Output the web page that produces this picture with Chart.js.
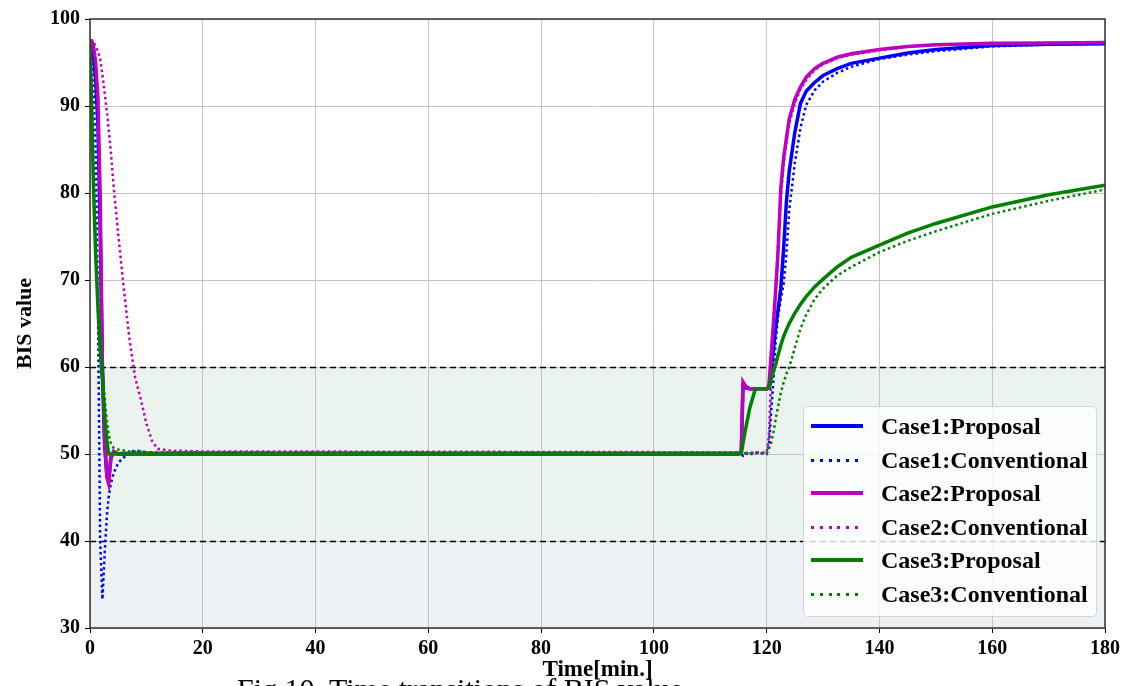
<!DOCTYPE html>
<html>
<head>
<meta charset="utf-8">
<script src="https://cdn.jsdelivr.net/npm/chart.js@4.4.0/dist/chart.umd.min.js"></script>
<style>
  html, body { margin: 0; padding: 0; background: #fff; overflow: hidden; }
  #wrap { position: relative; width: 1124px; height: 686px; overflow: hidden; }
  #legend {
    position: absolute; left: 803px; top: 406px; width: 294px; height: 211px;
    box-sizing: border-box; border: 1px solid #d4d4d4; border-radius: 5px;
    background: rgba(255, 255, 255, 0.8);
    font: bold 24px "Liberation Serif", "Times New Roman", serif; color: #000;
  }
  .row { position: absolute; left: 0; height: 30px; width: 100%; }
  .row .sample { position: absolute; left: 7px; top: 13px; width: 52px; }
  .row .label { position: absolute; left: 77px; top: 0; line-height: 30px; white-space: nowrap; }
  #caption {
    position: absolute; left: 237px; top: 674px; white-space: nowrap;
    font: 30px "Liberation Serif", "Times New Roman", serif; line-height: 30px; color: #000;
  }
</style>
</head>
<body>
<div id="wrap">
  <canvas id="chart" width="1124" height="686"></canvas>
  <div id="legend"></div>
  <div id="caption">Fig.10. Time transitions of BIS value</div>
</div>
<script>
// time axis [min.] shared by all series
const time = [0, 0.3, 0.6, 1.0, 1.4, 1.8, 2.2, 2.6, 3.0, 3.3,
              3.7, 4.2, 5, 6, 7, 8, 9, 10, 11, 12,
              14, 20, 115, 115.5, 115.8, 116.3, 117, 118, 120, 120.4,
              120.8, 121.2, 121.6, 122, 122.5, 123, 123.5, 124, 125, 126,
              127, 128.5, 130, 132.5, 135, 140, 145, 150, 160, 170,
              180];

const case1Proposal = [97.5, 97.3, 96, 93, 88, 76, 60, 51, 47.5, 46.8,
                       49.6, 50.2, 50, 50, 50, 50, 50, 50, 50, 50,
                       50, 50, 50, 50.1, 57.8, 57.6, 57.5, 57.5, 57.5, 57.6,
                       59.5, 62, 64.5, 66.5, 69, 73.5, 79, 82.5, 87, 90.3,
                       91.7, 92.7, 93.5, 94.3, 94.9, 95.5, 96.1, 96.5, 96.95, 97.1,
                       97.15];

const case1Conventional = [97.5, 95.5, 92, 85, 68, 40, 33.3, 38.5, 43, 45,
                           46.6, 47.8, 49, 49.6, 50.2, 50.4, 50.3, 50.2, 50.1, 50.1,
                           50.1, 50.1, 50.1, 50.0, 49.8, 50.1, 49.9, 50.2, 50.0, 51,
                           55, 58.5, 63, 65.7, 67.8, 69.5, 73, 78, 83.5, 87.5,
                           90.1, 91.8, 92.8, 93.8, 94.5, 95.4, 95.9, 96.3, 96.85, 97.05,
                           97.15];

const case2Proposal = [97.5, 97.5, 97, 95, 91, 80, 60, 51.5, 47.3, 46.6,
                       49.5, 50.3, 50, 50.1, 50.1, 50.1, 50.1, 50.1, 50.1, 50.1,
                       50.1, 50.1, 50.1, 50.2, 58.3, 57.8, 57.5, 57.5, 57.5, 57.8,
                       61.5, 65, 68.8, 73, 80.5, 84, 86.3, 88.5, 90.8, 92.2,
                       93.3, 94.3, 94.9, 95.6, 96.0, 96.5, 96.85, 97.05, 97.2, 97.25,
                       97.3];

const case2Conventional = [97.5, 97.5, 97.4, 96.9, 96.3, 95.4, 93.6, 91.5, 89.3, 87.4,
                           84.7, 80.7, 75.3, 69, 63.2, 58.8, 56.3, 53.5, 51.5, 50.6,
                           50.4, 50.3, 50.2, 50.2, 50.2, 50.1, 50.2, 50.1, 50.2, 52,
                           59, 65, 69.5, 74, 79.5, 83.2, 85.8, 88, 90.3, 91.9,
                           93.0, 94.1, 94.8, 95.5, 95.9, 96.4, 96.8, 97.0, 97.15, 97.25,
                           97.3];

const case3Proposal = [97.5, 90, 81, 73, 67, 62, 58.5, 54.5, 51.5, 50.0,
                       50, 50, 50, 50, 50, 50, 50, 50, 50, 50,
                       50, 50, 50, 50.1, 51.2, 53, 55.3, 57.5, 57.5, 57.6,
                       58.6, 59.5, 60.3, 61.3, 62.5, 63.5, 64.3, 65, 66.2, 67.2,
                       68.1, 69.2, 70.1, 71.5, 72.6, 74.0, 75.4, 76.5, 78.4, 79.8,
                       80.9];

const case3Conventional = [97.5, 93, 85, 76, 69, 64, 60, 56.5, 53.8, 52.3,
                           51.2, 50.7, 50.5, 50.4, 50.3, 50.3, 50.3, 50.2, 50.2, 50.2,
                           50.2, 50.2, 50.1, 50.1, 50.1, 50.1, 50.1, 50.1, 50.1, 50.6,
                           51.3, 52.5, 54, 55.4, 57, 58.2, 59.2, 60.0, 62.2, 64.4,
                           66, 67.8, 69, 70.5, 71.5, 73.2, 74.5, 75.6, 77.6, 79.1,
                           80.4];

const xTicks = [0, 20, 40, 60, 80, 100, 120, 140, 160, 180];
const yTicks = [30, 40, 50, 60, 70, 80, 90, 100];
const targetRange = [40, 60];

const BLUE = '#0000ff';
const MAGENTA = '#bf00bf';
const GREEN = '#008000';

const toPoints = (values) => values.map((v, i) => ({ x: time[i], y: v }));

const solid = (label, values, color) => ({
    label, data: toPoints(values), borderColor: color, backgroundColor: color,
    borderWidth: 3.5, pointRadius: 0, fill: false,
});
const dotted = (label, values, color) => ({
    label, data: toPoints(values), borderColor: color, backgroundColor: color,
    borderWidth: 2.5, borderDash: [2.5, 3], pointRadius: 0, fill: false,
});

const datasets = [
    solid('Case1:Proposal', case1Proposal, BLUE),
    dotted('Case1:Conventional', case1Conventional, BLUE),
    solid('Case2:Proposal', case2Proposal, MAGENTA),
    dotted('Case2:Conventional', case2Conventional, MAGENTA),
    solid('Case3:Proposal', case3Proposal, GREEN),
    dotted('Case3:Conventional', case3Conventional, GREEN),
];
// later series drawn on top
datasets.forEach((d, i) => { d.order = datasets.length - i; });

// shaded bands + dashed limits + frame
const bandsPlugin = {
    id: 'bands',
    beforeDraw(chart) {
        const { ctx, chartArea: a, scales: { y } } = chart;
        const yLo = y.getPixelForValue(targetRange[0]);
        const yHi = y.getPixelForValue(targetRange[1]);
        const yMin = y.getPixelForValue(y.min);
        ctx.save();
        ctx.fillStyle = '#ebf3ee';
        ctx.fillRect(a.left, yHi, a.right - a.left, yLo - yHi);
        ctx.fillStyle = '#edf1f6';
        ctx.fillRect(a.left, yLo, a.right - a.left, yMin - yLo);
        ctx.restore();
    },
    beforeDatasetsDraw(chart) {
        const { ctx, chartArea: a, scales: { y } } = chart;
        ctx.save();
        ctx.strokeStyle = '#000';
        ctx.lineWidth = 1.5;
        ctx.setLineDash([6, 4]);
        targetRange.forEach(v => {
            const py = Math.round(y.getPixelForValue(v)) + 0.5;
            ctx.beginPath();
            ctx.moveTo(a.left, py);
            ctx.lineTo(a.right, py);
            ctx.stroke();
        });
        ctx.restore();
    },
    afterDatasetsDraw(chart) {
        const { ctx, chartArea: a } = chart;
        ctx.save();
        ctx.strokeStyle = '#333';
        ctx.lineWidth = 1.5;
        ctx.strokeRect(a.left, a.top, a.right - a.left, a.bottom - a.top);
        ctx.restore();
    }
};

const tickFont = { family: '"Liberation Serif", "Times New Roman", serif', size: 20, weight: 'bold' };
const titleFont = { family: '"Liberation Serif", "Times New Roman", serif', size: 22, weight: 'bold' };

const chart = new Chart(document.getElementById('chart'), {
    type: 'line',
    data: { datasets },
    options: {
        responsive: false,
        animation: false,
        events: [],
        layout: { padding: { left: 0, top: 19, right: 17, bottom: 0 } },
        plugins: { legend: { display: false }, tooltip: { enabled: false } },
        scales: {
            x: {
                type: 'linear', min: 0, max: 180,
                afterBuildTicks: (s) => { s.ticks = xTicks.map(v => ({ value: v })); },
                afterFit: (s) => { s.height = 58; },
                grid: { color: '#c4c4c4', lineWidth: 1, tickColor: '#000', tickLength: 5 },
                border: { display: false },
                ticks: { font: tickFont, color: '#000', padding: 4, maxRotation: 0 },
                title: { display: true, text: 'Time[min.]', font: { ...titleFont, size: 23 }, color: '#000', padding: { top: 0, bottom: 2 } },
            },
            y: {
                type: 'linear', min: 30, max: 100,
                afterBuildTicks: (s) => { s.ticks = yTicks.map(v => ({ value: v })); },
                afterFit: (s) => { s.width = 90; },
                grid: { color: '#c4c4c4', lineWidth: 1, tickColor: '#000', tickLength: 5 },
                border: { display: false },
                ticks: { font: tickFont, color: '#000', padding: 5 },
                title: { display: true, text: 'BIS value', font: titleFont, color: '#000', padding: { top: 12, bottom: 0 } },
            },
        },
    },
    plugins: [bandsPlugin],
});

// legend inside the plot, built from the datasets
const legend = document.getElementById('legend');
chart.data.datasets.forEach((d, i) => {
    const row = document.createElement('div');
    row.className = 'row';
    row.style.top = (4 + i * 33.6) + 'px';
    const sample = document.createElement('div');
    sample.className = 'sample';
    if (d.borderDash) {
        sample.style.height = '3px';
        sample.style.marginTop = '1px';
        sample.style.background = `repeating-linear-gradient(to right, ${d.borderColor} 0 3px, transparent 3px 8.8px)`;
    } else {
        sample.style.height = '4px';
        sample.style.background = d.borderColor;
    }
    const label = document.createElement('div');
    label.className = 'label';
    label.textContent = d.label;
    row.appendChild(sample);
    row.appendChild(label);
    legend.appendChild(row);
});
</script>
</body>
</html>
